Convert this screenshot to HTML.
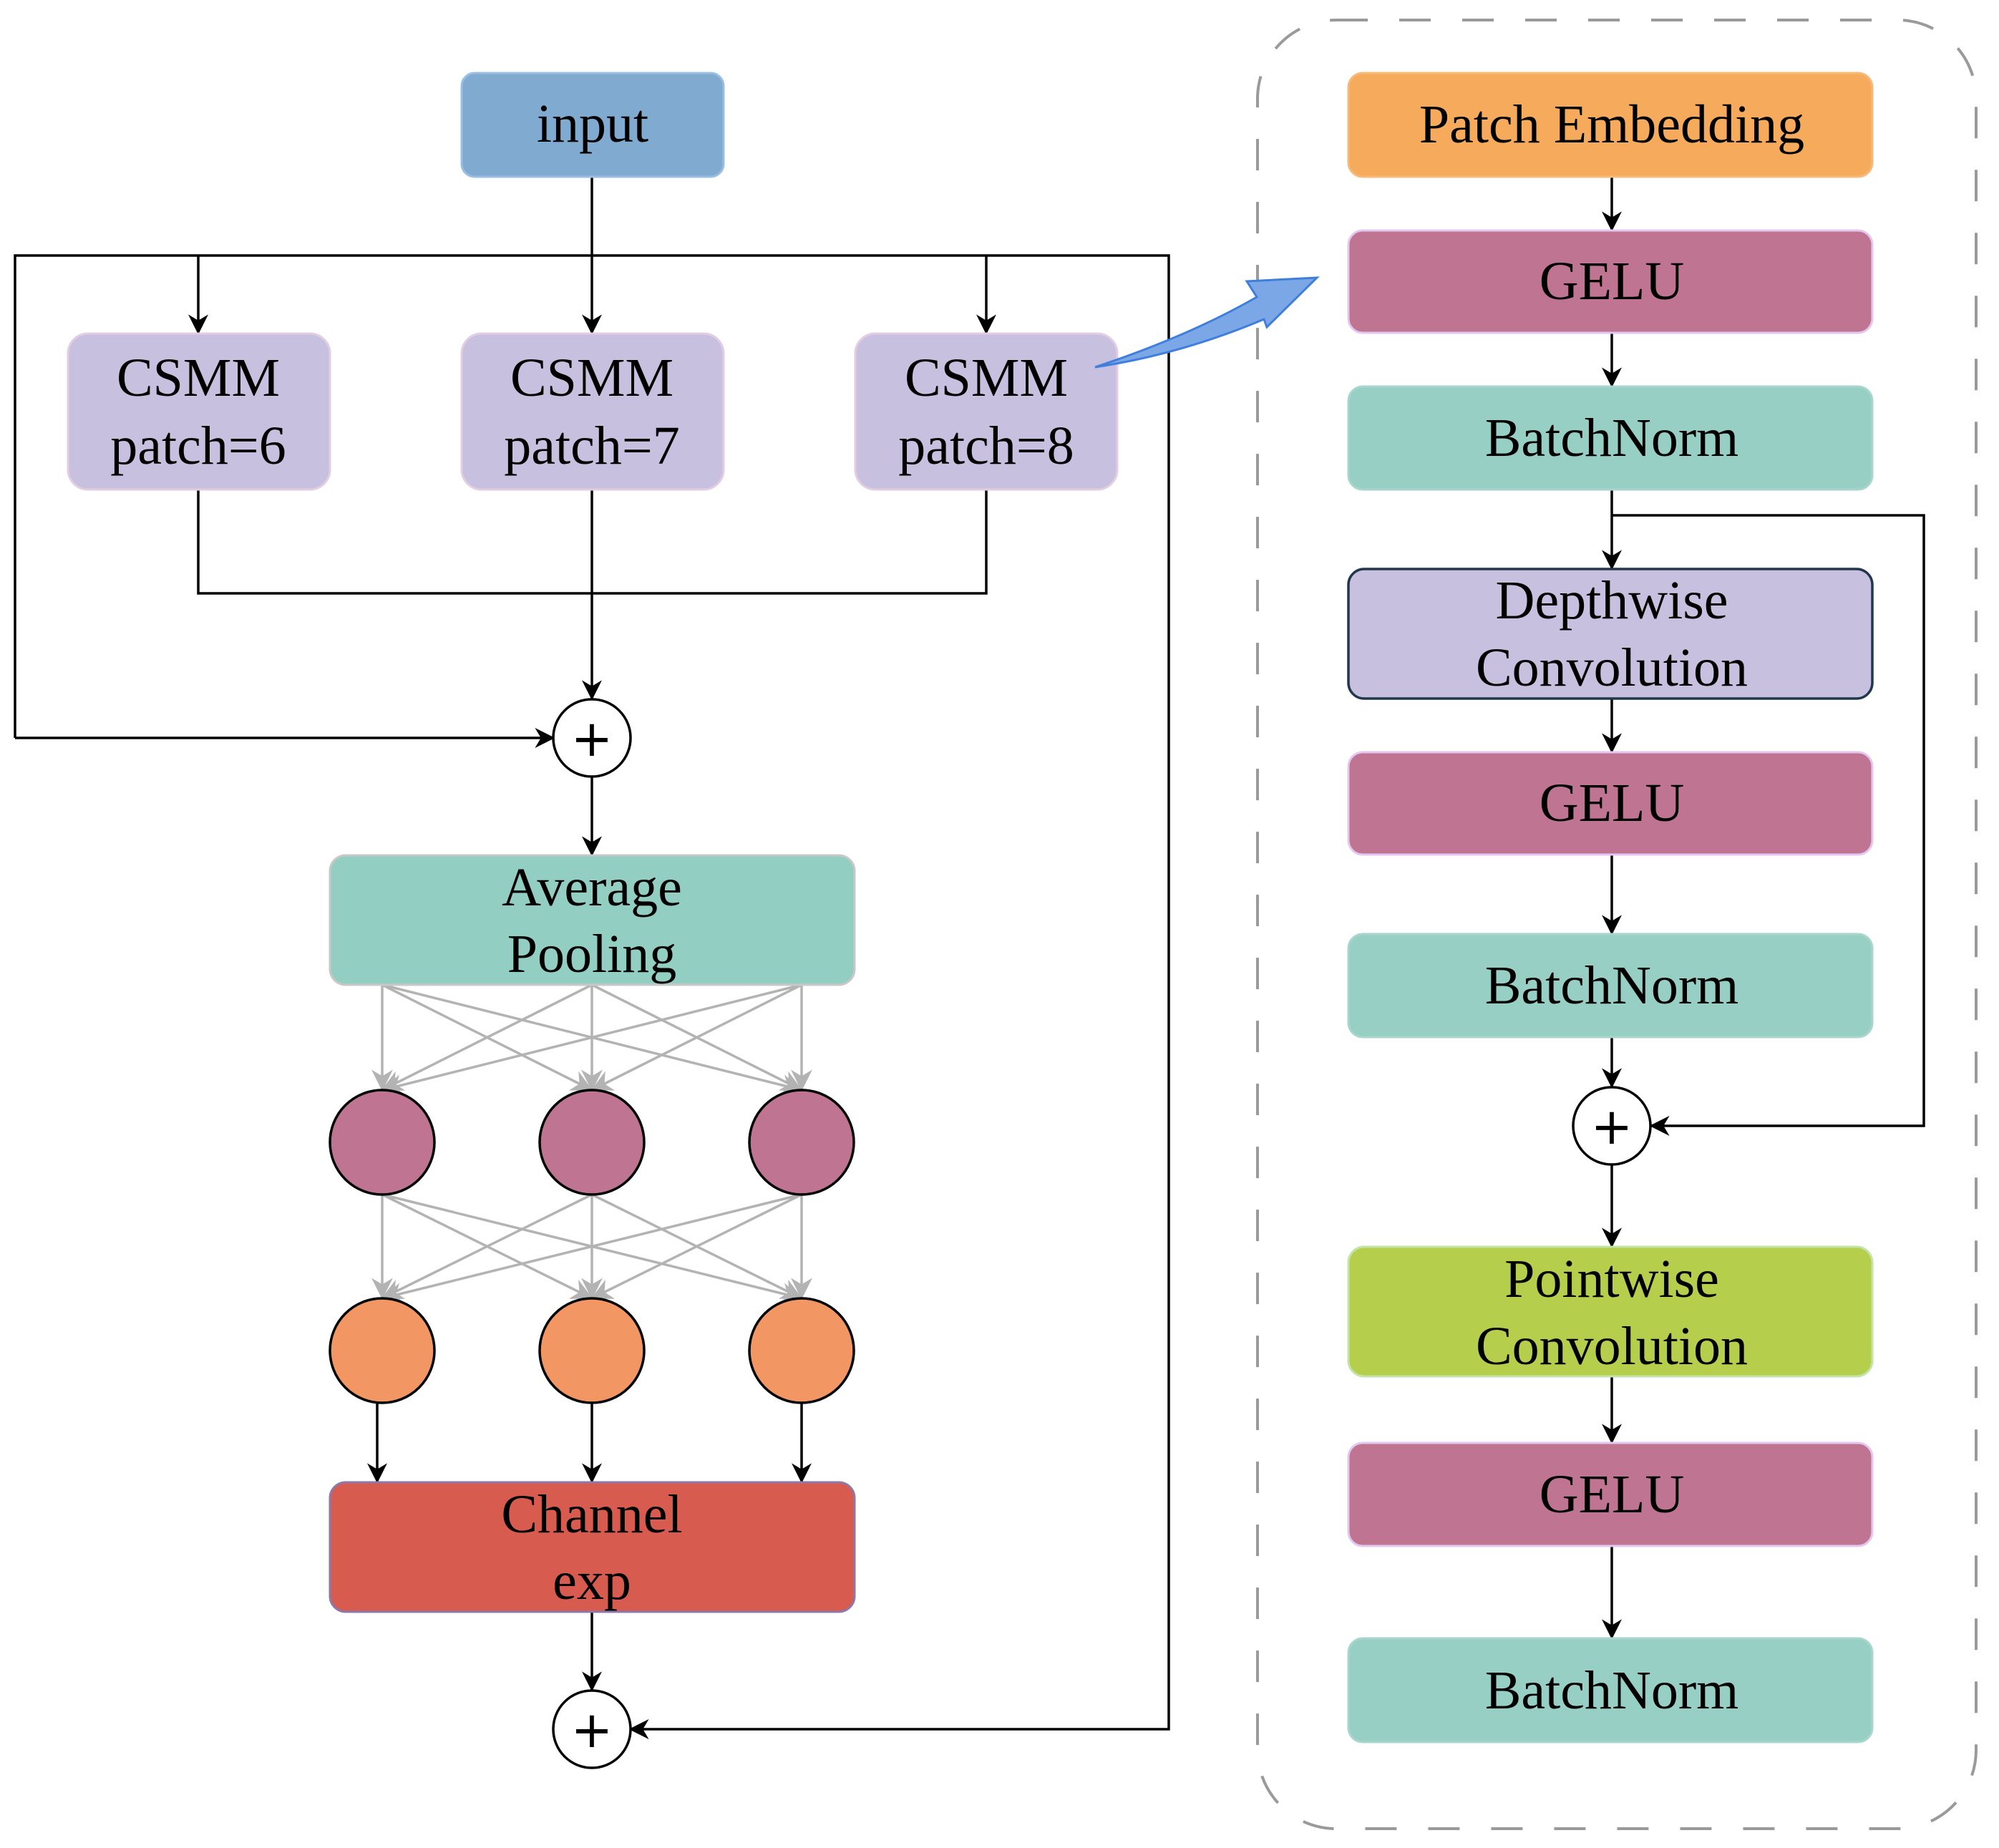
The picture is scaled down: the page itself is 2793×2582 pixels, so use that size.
<!DOCTYPE html>
<html><head><meta charset="utf-8">
<style>
html,body{margin:0;padding:0;background:#fff;}
svg{display:block;}
text{font-family:"Liberation Serif",serif;font-size:76px;fill:#000;text-anchor:middle;}
</style></head>
<body>
<svg width="2793" height="2582" viewBox="0 0 2793 2582" xmlns="http://www.w3.org/2000/svg">
<defs>
<marker id="a" viewBox="0 0 20 20" refX="19" refY="10" markerWidth="28" markerHeight="28" orient="auto" markerUnits="userSpaceOnUse">
<path d="M0,0 L20,10 L0,20 L6,10 Z" fill="#000"/>
</marker>
<marker id="g" viewBox="0 0 20 20" refX="19" refY="10" markerWidth="30" markerHeight="30" orient="auto" markerUnits="userSpaceOnUse">
<path d="M0,0 L20,10 L0,20 L6,10 Z" fill="#b3b3b3"/>
</marker>
</defs>

<rect x="1757" y="28" width="1004" height="2527" rx="110" ry="110" fill="none" stroke="#9a9a9a" stroke-width="4" stroke-dasharray="44,44"/>

<g stroke="#000" stroke-width="3.5" fill="none">
<line x1="827" y1="247" x2="827" y2="466" marker-end="url(#a)"/>
<polyline points="21,1031 21,357 1633,357 1633,2416 880,2416" marker-end="url(#a)"/>
<polyline points="21,1031 774,1031" marker-end="url(#a)"/>
<line x1="277" y1="357" x2="277" y2="466" marker-end="url(#a)"/>
<line x1="1378" y1="357" x2="1378" y2="466" marker-end="url(#a)"/>
<polyline points="277,684 277,829 1378,829 1378,684"/>
<line x1="827" y1="684" x2="827" y2="977" marker-end="url(#a)"/>
<line x1="827" y1="1085" x2="827" y2="1195" marker-end="url(#a)"/>
<line x1="527" y1="1960" x2="527" y2="2071" marker-end="url(#a)"/>
<line x1="827" y1="1960" x2="827" y2="2071" marker-end="url(#a)"/>
<line x1="1120" y1="1960" x2="1120" y2="2071" marker-end="url(#a)"/>
<line x1="827" y1="2252" x2="827" y2="2362" marker-end="url(#a)"/>
</g>

<g stroke="#b3b3b3" stroke-width="3.5" fill="none">
<line x1="534" y1="1376" x2="534" y2="1523" marker-end="url(#g)"/>
<line x1="534" y1="1376" x2="827" y2="1523" marker-end="url(#g)"/>
<line x1="534" y1="1376" x2="1120" y2="1523" marker-end="url(#g)"/>
<line x1="827" y1="1376" x2="534" y2="1523" marker-end="url(#g)"/>
<line x1="827" y1="1376" x2="827" y2="1523" marker-end="url(#g)"/>
<line x1="827" y1="1376" x2="1120" y2="1523" marker-end="url(#g)"/>
<line x1="1120" y1="1376" x2="534" y2="1523" marker-end="url(#g)"/>
<line x1="1120" y1="1376" x2="827" y2="1523" marker-end="url(#g)"/>
<line x1="1120" y1="1376" x2="1120" y2="1523" marker-end="url(#g)"/>
<line x1="534" y1="1669" x2="534" y2="1814" marker-end="url(#g)"/>
<line x1="534" y1="1669" x2="827" y2="1814" marker-end="url(#g)"/>
<line x1="534" y1="1669" x2="1120" y2="1814" marker-end="url(#g)"/>
<line x1="827" y1="1669" x2="534" y2="1814" marker-end="url(#g)"/>
<line x1="827" y1="1669" x2="827" y2="1814" marker-end="url(#g)"/>
<line x1="827" y1="1669" x2="1120" y2="1814" marker-end="url(#g)"/>
<line x1="1120" y1="1669" x2="534" y2="1814" marker-end="url(#g)"/>
<line x1="1120" y1="1669" x2="827" y2="1814" marker-end="url(#g)"/>
<line x1="1120" y1="1669" x2="1120" y2="1814" marker-end="url(#g)"/>
</g>

<rect x="645" y="102" width="366" height="145" rx="18" fill="#80AACF" stroke="#9BBFE3" stroke-width="3"/>
<text x="828" y="198">input</text>

<rect x="95" y="466" width="366" height="218" rx="28" fill="#C7C0DF" stroke="#E3CDE3" stroke-width="3"/>
<text x="277" y="553">CSMM</text><text x="277" y="648">patch=6</text>
<rect x="645" y="466" width="366" height="218" rx="28" fill="#C7C0DF" stroke="#E3CDE3" stroke-width="3"/>
<text x="827" y="553">CSMM</text><text x="827" y="648">patch=7</text>
<rect x="1195" y="466" width="366" height="218" rx="28" fill="#C7C0DF" stroke="#E3CDE3" stroke-width="3"/>
<text x="1378" y="553">CSMM</text><text x="1378" y="648">patch=8</text>

<circle cx="827" cy="1031" r="54" fill="#fff" stroke="#000" stroke-width="3.5"/>
<text x="827" y="1056" style="font-family:'DejaVu Sans',sans-serif;font-size:70px;">+</text>

<rect x="461" y="1195" width="733" height="181" rx="22" fill="#93CEC2" stroke="#C8C8C8" stroke-width="3"/>
<text x="827" y="1265">Average</text><text x="827" y="1358">Pooling</text>

<g stroke="#000" stroke-width="3.5">
<circle cx="534" cy="1596" r="73" fill="#BF7592"/>
<circle cx="827" cy="1596" r="73" fill="#BF7592"/>
<circle cx="1120" cy="1596" r="73" fill="#BF7592"/>
<circle cx="534" cy="1887" r="73" fill="#F29663"/>
<circle cx="827" cy="1887" r="73" fill="#F29663"/>
<circle cx="1120" cy="1887" r="73" fill="#F29663"/>
</g>

<rect x="461" y="2071" width="733" height="181" rx="22" fill="#D85B4F" stroke="#8E78A8" stroke-width="3"/>
<text x="827" y="2141">Channel</text><text x="827" y="2234">exp</text>

<circle cx="827" cy="2416" r="54" fill="#fff" stroke="#000" stroke-width="3.5"/>
<text x="827" y="2441" style="font-family:'DejaVu Sans',sans-serif;font-size:70px;">+</text>

<path d="M1530,513 Q1660,470 1756,415 L1742,393 L1840,388 L1770,457 L1766,446 Q1650,495 1530,513 Z" fill="#7BA7E6" stroke="#3F7FDB" stroke-width="3"/>

<g stroke="#000" stroke-width="3.5" fill="none">
<line x1="2252" y1="247" x2="2252" y2="322" marker-end="url(#a)"/>
<line x1="2252" y1="465" x2="2252" y2="540" marker-end="url(#a)"/>
<line x1="2252" y1="684" x2="2252" y2="795" marker-end="url(#a)"/>
<polyline points="2252,720 2688,720 2688,1573 2306,1573" marker-end="url(#a)"/>
<line x1="2252" y1="976" x2="2252" y2="1051" marker-end="url(#a)"/>
<line x1="2252" y1="1194" x2="2252" y2="1305" marker-end="url(#a)"/>
<line x1="2252" y1="1449" x2="2252" y2="1519" marker-end="url(#a)"/>
<line x1="2252" y1="1627" x2="2252" y2="1742" marker-end="url(#a)"/>
<line x1="2252" y1="1923" x2="2252" y2="2016" marker-end="url(#a)"/>
<line x1="2252" y1="2160" x2="2252" y2="2289" marker-end="url(#a)"/>
</g>

<rect x="1884" y="102" width="732" height="145" rx="20" fill="#F5AA5C" stroke="#F8B878" stroke-width="3"/>
<text x="2252" y="199">Patch Embedding</text>
<rect x="1884" y="322" width="732" height="143" rx="20" fill="#BF7592" stroke="#E4C6F2" stroke-width="3"/>
<text x="2252" y="418">GELU</text>
<rect x="1884" y="540" width="732" height="144" rx="20" fill="#97CFC5" stroke="#A8D6CC" stroke-width="3"/>
<text x="2252" y="637">BatchNorm</text>
<rect x="1884" y="795" width="732" height="181" rx="22" fill="#C7C0DF" stroke="#22364D" stroke-width="3.5"/>
<text x="2252" y="864">Depthwise</text><text x="2252" y="958">Convolution</text>
<rect x="1884" y="1051" width="732" height="143" rx="20" fill="#BF7592" stroke="#E4C6F2" stroke-width="3"/>
<text x="2252" y="1147">GELU</text>
<rect x="1884" y="1305" width="732" height="144" rx="20" fill="#97CFC5" stroke="#A8D6CC" stroke-width="3"/>
<text x="2252" y="1402">BatchNorm</text>
<circle cx="2252" cy="1573" r="54" fill="#fff" stroke="#000" stroke-width="3.5"/>
<text x="2252" y="1598" style="font-family:'DejaVu Sans',sans-serif;font-size:70px;">+</text>
<rect x="1884" y="1742" width="732" height="181" rx="22" fill="#B5CF4D" stroke="#C3E4A8" stroke-width="3"/>
<text x="2252" y="1812">Pointwise</text><text x="2252" y="1906">Convolution</text>
<rect x="1884" y="2016" width="732" height="144" rx="20" fill="#BF7592" stroke="#E4C6F2" stroke-width="3"/>
<text x="2252" y="2113">GELU</text>
<rect x="1884" y="2289" width="732" height="145" rx="20" fill="#97CFC5" stroke="#A8D6CC" stroke-width="3"/>
<text x="2252" y="2387">BatchNorm</text>
</svg>
</body></html>
